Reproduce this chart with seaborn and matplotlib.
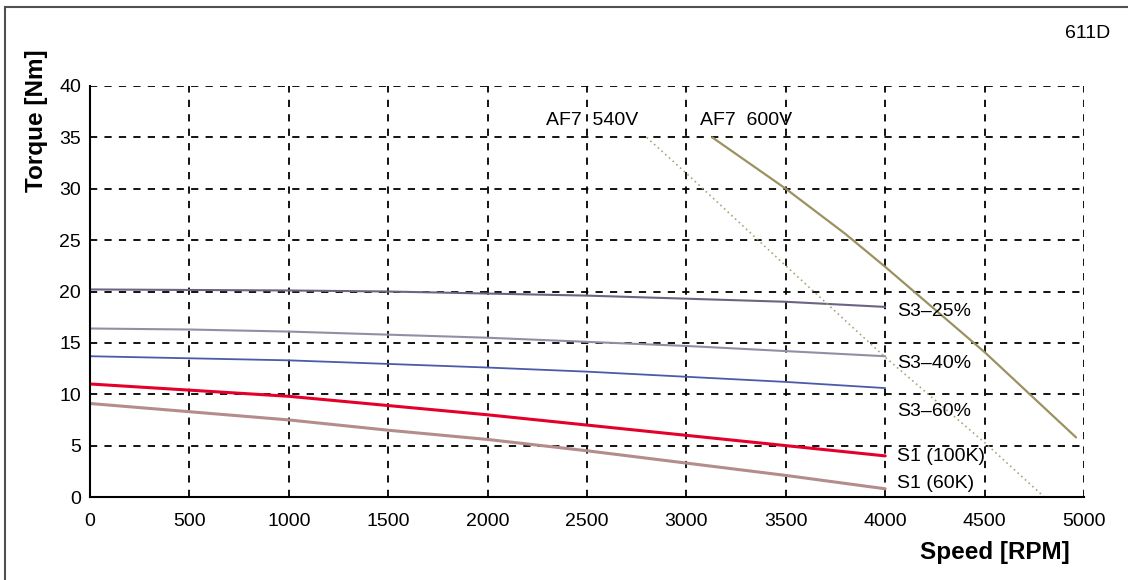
import numpy as np
import pandas as pd
import matplotlib.pyplot as plt
from matplotlib.patches import Rectangle
import seaborn as sns

# data
speed = [0, 500, 1000, 1500, 2000, 2500, 3000, 3500, 4000]
s3_25 = [20.2, 20.15, 20.1, 20.0, 19.8, 19.6, 19.3, 19.0, 18.5]
s3_40 = [16.4, 16.3, 16.1, 15.8, 15.5, 15.1, 14.7, 14.2, 13.7]
s3_60 = [13.7, 13.5, 13.3, 12.95, 12.6, 12.2, 11.7, 11.2, 10.6]
s1_100 = [11.0, 10.4, 9.8, 8.9, 8.0, 7.0, 6.0, 5.0, 4.0]
s1_60 = [9.1, 8.3, 7.5, 6.5, 5.6, 4.5, 3.3, 2.1, 0.8]

af7_540_speed = [2800, 3000, 3500, 4000, 4500, 4800]
af7_540_torque = [35, 31.5, 22.5, 13.6, 5.3, 0]
af7_600_speed = [3130, 3500, 3800, 4000, 4500, 4960]
af7_600_torque = [35, 30, 25.6, 22.4, 14.1, 5.8]

curve_labels = ["S3\u201325%", "S3\u201340%", "S3\u201360%", "S1 (100K)", "S1 (60K)"]
label_y = [18.1, 13.0, 8.3, 3.9, 1.3]

sns.set_style("white")
plt.rcParams['font.family'] = ['Liberation Sans', 'DejaVu Sans']
plt.rcParams['text.color'] = 'black'
plt.rcParams['xtick.color'] = 'black'
plt.rcParams['ytick.color'] = 'black'

fs = 14

fig = plt.figure(figsize=(11.28, 5.8), dpi=100)
ax = fig.add_axes([90 / 1128, 1 - 497 / 580, 994 / 1128, 411 / 580])

# outer frame
fig.patches.append(Rectangle((5 / 1128, -0.1), 1.2, 1 - 7 / 580 + 0.1,
                             transform=fig.transFigure, fill=False,
                             edgecolor="#505050", linewidth=1.5))

curves = [
    (s3_25, "#6e6482", 1.5),
    (s3_40, "#948ea4", 1.5),
    (s3_60, "#4c5aaa", 1.3),
    (s1_100, "#e4002b", 2.2),
    (s1_60, "#b48c8c", 2.2),
]
for vals, col, lw in curves:
    sns.lineplot(x=speed, y=vals, color=col, linewidth=lw, ax=ax)

sns.lineplot(x=af7_540_speed, y=af7_540_torque, color="#aaa67a", linewidth=1.2,
             linestyle=(0, (1, 2)), ax=ax)
sns.lineplot(x=af7_600_speed, y=af7_600_torque, color="#9a9260", linewidth=1.6, ax=ax)

for lab, yy in zip(curve_labels, label_y):
    ax.text(4060, yy, lab, fontsize=fs, va="center", ha="left")
ax.text(2295, 36.6, "AF7  540V", fontsize=fs, va="center", ha="left")
ax.text(3068, 36.6, "AF7  600V", fontsize=fs, va="center", ha="left")
fig.text(1110 / 1128, 1 - 33 / 580, "611D", fontsize=fs, ha="right", va="center")

ax.set_xlim(0, 5000)
ax.set_ylim(0, 40)
ax.set_xticks(np.arange(0, 5001, 500))
ax.set_yticks(np.arange(0, 41, 5))
ax.tick_params(axis="both", labelsize=fs, length=5, width=1.2, colors="black",
               direction="inout")
ax.tick_params(axis="x", pad=9)
ax.tick_params(axis="y", pad=4)
ax.grid(True, color="black", linestyle=(0, (4, 4)), linewidth=1.3)
for side in ["top", "right"]:
    ax.spines[side].set_visible(False)
for side in ["left", "bottom"]:
    ax.spines[side].set_color("black")
    ax.spines[side].set_linewidth(1.5)

fig.text(37 / 1128, 1 - 121 / 580, "Torque [Nm]", fontsize=17.5, fontweight="bold",
         rotation=90, ha="center", va="center")
fig.text(1070 / 1128, 1 - 552 / 580, "Speed [RPM]", fontsize=17.5, fontweight="bold",
         ha="right", va="center")

fig.savefig("out.png", dpi=100)
